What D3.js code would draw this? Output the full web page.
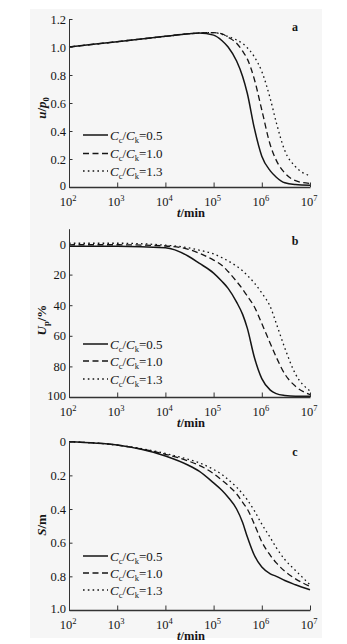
<!DOCTYPE html>
<html>
<head>
<meta charset="utf-8">
<script src="https://cdn.jsdelivr.net/npm/d3@7"></script>
<style>
  html, body { margin: 0; padding: 0; background: #fff; }
  svg { display: block; font-family: "Liberation Serif", "DejaVu Serif", serif; }
</style>
</head>
<body>
<svg id="chart" width="347" height="644"></svg>
<script>
// Time (min) at which each series is sampled
const times = [1e2, 1e3, 1e4, 3e4, 5e4, 1e5, 1.5e5, 2e5, 3e5, 4e5, 5e5, 7e5, 1e6, 1.5e6, 2e6, 3e6, 5e6, 1e7];

// Legend ratios Cc/Ck
const ratios = ["0.5", "1.0", "1.3"];

// (a) normalised pore pressure u/p0
const pressure05 = [1.000, 1.038, 1.076, 1.094, 1.100, 1.085, 1.045, 1.000, 0.900, 0.790, 0.670, 0.420, 0.220, 0.115, 0.070, 0.030, 0.017, 0.012];
const pressure10 = [1.000, 1.038, 1.076, 1.094, 1.100, 1.102, 1.093, 1.070, 1.027, 0.970, 0.915, 0.770, 0.550, 0.300, 0.190, 0.100, 0.045, 0.025];
const pressure13 = [1.000, 1.038, 1.076, 1.094, 1.100, 1.103, 1.090, 1.075, 1.050, 1.025, 0.995, 0.930, 0.825, 0.630, 0.460, 0.260, 0.145, 0.080];

// (b) degree of consolidation Up (%)
const degree05 = [1.5, 1.5, 2.5, 8, 12.5, 19, 24.5, 29, 38, 46, 55, 74, 88, 95.5, 97.8, 99, 99.5, 99.5];
const degree10 = [0.5, 0.5, 1.3, 3.5, 6, 10.5, 14, 18, 24.5, 29.5, 34, 41, 52, 65, 74, 85, 93, 98.5];
const degree13 = [-0.5, -0.5, 0.8, 2.5, 4, 6.5, 9, 11, 14.5, 17.5, 20.5, 25.5, 32, 41, 52, 68, 85, 96];

// (c) settlement S (m)
const settle05 = [0, 0.02, 0.085, 0.14, 0.175, 0.245, 0.29, 0.33, 0.40, 0.48, 0.565, 0.675, 0.745, 0.785, 0.80, 0.825, 0.85, 0.88];
const settle10 = [0, 0.02, 0.075, 0.115, 0.14, 0.19, 0.23, 0.26, 0.31, 0.36, 0.40, 0.49, 0.595, 0.675, 0.72, 0.77, 0.815, 0.86];
const settle13 = [0, 0.02, 0.07, 0.105, 0.125, 0.165, 0.195, 0.225, 0.27, 0.31, 0.345, 0.41, 0.49, 0.57, 0.63, 0.70, 0.765, 0.85];

// Axis ticks
const xMajor = [1e2, 1e3, 1e4, 1e5, 1e6, 1e7];
const xExp = ["2", "3", "4", "5", "6", "7"];
const yTicksA = [0, 0.2, 0.4, 0.6, 0.8, 1.0, 1.2];
const yLabelsA = ["0", "0.2", "0.4", "0.6", "0.8", "1.0", "1.2"];
const yTicksB = [0, 20, 40, 60, 80, 100];
const yLabelsB = ["0", "20", "40", "60", "80", "100"];
const yTicksC = [0, 0.2, 0.4, 0.6, 0.8, 1.0];
const yLabelsC = ["0", "0.2", "0.4", "0.6", "0.8", "1.0"];

const svg = d3.select("#chart");
const ink = "#151515";
const dashes = [null, "6,3.5", "1.6,3.2"];

svg.append("rect").attr("x", 30).attr("y", 9).attr("width", 292).attr("height", 629).attr("fill", "#f6f6f6");

const xMinor = [];
for (let e = 2; e < 7; e++) for (let m = 2; m <= 9; m++) xMinor.push(m * Math.pow(10, e));

function panel(cfg) {
  const x = d3.scaleLog().domain([1e2, 1e7]).range([69, 310]);
  const y = d3.scaleLinear().domain(cfg.domain).range(cfg.range);
  const g = svg.append("g");

  // series
  const line = d3.line()
    .x((d, i) => x(times[i]))
    .y(d => y(d))
    .curve(d3.curveMonotoneX);
  cfg.series.forEach((s, k) => {
    g.append("path").datum(s)
      .attr("d", line)
      .attr("fill", "none")
      .attr("stroke", ink)
      .attr("stroke-width", k === 0 ? 1.5 : 1.3)
      .attr("stroke-dasharray", dashes[k]);
  });

  // x axis (ticks point inward)
  const xb = cfg.axisY;
  const xAxis = g.append("g").attr("transform", `translate(0,${xb})`);
  xAxis.call(d3.axisBottom(x).tickValues(xMinor).tickSizeInner(-3).tickSizeOuter(0).tickFormat(""));
  xAxis.call(d3.axisBottom(x).tickValues(xMajor).tickSizeInner(-4.5).tickSizeOuter(0).tickFormat(""));
  xAxis.selectAll("path,line").attr("stroke", "#333").attr("stroke-width", 1);
  xAxis.select("path.domain").attr("stroke-width", 1.6);

  const lab = g.append("g").attr("font-size", 12.5).attr("fill", ink);
  xMajor.forEach((t, i) => {
    const tx = lab.append("text").attr("x", x(t) - 1).attr("y", xb + 18.5).attr("text-anchor", "middle");
    tx.append("tspan").text("10");
    tx.append("tspan").attr("dy", -5).attr("font-size", 8.5).text(xExp[i]);
  });
  const xt = g.append("text").attr("x", 191).attr("y", xb + 29.5).attr("text-anchor", "middle")
    .attr("font-size", 12.5).attr("font-weight", "bold").attr("fill", ink);
  xt.append("tspan").attr("font-style", "italic").text("t");
  xt.append("tspan").text("/min");

  // y axis
  const yAxis = g.append("g").attr("transform", "translate(69,0)");
  yAxis.call(d3.axisLeft(y).tickValues(cfg.yMinor).tickSizeInner(-2).tickSizeOuter(0).tickFormat(""));
  yAxis.call(d3.axisLeft(y).tickValues(cfg.yTicks).tickSizeInner(-3.5).tickSizeOuter(0).tickPadding(3)
    .tickFormat((d, i) => cfg.yLabels[i]));
  yAxis.selectAll("path,line").attr("stroke", "#333").attr("stroke-width", 1);
  yAxis.selectAll("text").attr("font-size", 12.5).attr("fill", ink)
    .attr("font-family", "Liberation Serif, serif");
  // keep the bottom tick label clear of the 10^2 label beneath it
  yAxis.selectAll(".tick text").filter(d => d === cfg.axisValue).attr("dy", "0.2em");

  // y title
  const yt = g.append("text")
    .attr("transform", `translate(46,${cfg.titleY}) rotate(-90)`)
    .attr("text-anchor", "middle").attr("font-size", 13).attr("font-weight", "bold").attr("fill", ink);
  cfg.title(yt);

  // panel letter
  g.append("text").attr("x", 295).attr("y", cfg.letterY).attr("text-anchor", "middle")
    .attr("font-size", 12).attr("font-weight", "bold").attr("fill", ink).text(cfg.letter);

  // legend
  cfg.legendY.forEach((ly, k) => {
    g.append("line").attr("x1", 83).attr("x2", 108).attr("y1", ly).attr("y2", ly)
      .attr("stroke", ink).attr("stroke-width", k === 0 ? 1.5 : 1.3)
      .attr("stroke-dasharray", dashes[k]);
    const t = g.append("text").attr("x", 110).attr("y", ly + 4.5)
      .attr("font-size", 13).attr("fill", ink);
    t.append("tspan").attr("font-style", "italic").text("C");
    t.append("tspan").attr("font-size", 8.5).attr("dy", 3).text("c");
    t.append("tspan").attr("dy", -3).text("/");
    t.append("tspan").attr("font-style", "italic").text("C");
    t.append("tspan").attr("font-size", 8.5).attr("dy", 3).text("k");
    t.append("tspan").attr("dy", -3).text("=" + ratios[k]);
  });
}

panel({
  domain: [0, 1.2], range: [187, 19], axisY: 187, axisValue: 0,
  series: [pressure05, pressure10, pressure13],
  yTicks: yTicksA, yLabels: yLabelsA,
  yMinor: d3.range(0, 13).map(i => i / 10),
  titleY: 108, letter: "a", letterY: 31,
  legendY: [135, 153.5, 171],
  title: t => {
    t.append("tspan").attr("font-style", "italic").text("u");
    t.append("tspan").text("/");
    t.append("tspan").attr("font-style", "italic").text("p");
    t.append("tspan").attr("font-size", 8.5).attr("dy", 3).text("0");
  }
});

panel({
  domain: [-10, 100], range: [228.7, 397], axisY: 397, axisValue: 100,
  series: [degree05, degree10, degree13],
  yTicks: yTicksB, yLabels: yLabelsB,
  yMinor: d3.range(-1, 11).map(i => i * 10),
  titleY: 320, letter: "b", letterY: 245,
  legendY: [344, 361, 379],
  title: t => {
    t.append("tspan").attr("font-style", "italic").text("U");
    t.append("tspan").attr("font-size", 8.5).attr("dy", 3).text("p");
    t.append("tspan").attr("dy", -3).text("/%");
  }
});

panel({
  domain: [0, 1], range: [441.7, 610], axisY: 610, axisValue: 1,
  series: [settle05, settle10, settle13],
  yTicks: yTicksC, yLabels: yLabelsC,
  yMinor: d3.range(0, 11).map(i => i / 10),
  titleY: 525, letter: "c", letterY: 456,
  legendY: [556, 573, 590],
  title: t => {
    t.append("tspan").attr("font-style", "italic").text("S");
    t.append("tspan").text("/m");
  }
});
</script>
</body>
</html>
